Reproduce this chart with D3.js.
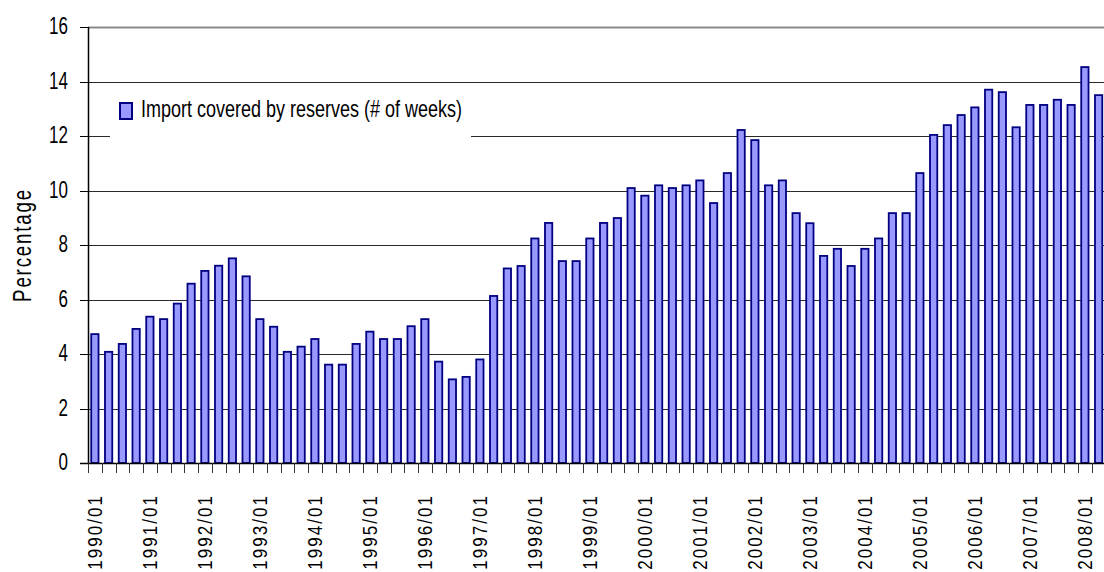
<!DOCTYPE html>
<html>
<head>
<meta charset="utf-8">
<script src="https://cdn.jsdelivr.net/npm/d3@7"></script>
<style>
    body { margin: 0; background: #fff; }
    svg text { font-family: "Liberation Sans", Arial, sans-serif; fill: #000; }
</style>
</head>
<body>
<div id="chart-view"></div>
<script>
// Chart data (quarterly, 1990/01 .. 2008/02)
const years = ["1990", "1991", "1992", "1993", "1994", "1995", "1996", "1997", "1998",
    "1999", "2000", "2001", "2002", "2003", "2004", "2005", "2006", "2007", "2008"];
const quarters = ["01", "02", "03", "04"];
const importCover = [
    4.73, 4.08, 4.37, 4.92, 5.37, 5.28, 5.85, 6.58,
    7.05, 7.24, 7.51, 6.85, 5.28, 5.00, 4.08, 4.27,
    4.55, 3.61, 3.61, 4.37, 4.82, 4.55, 4.55, 5.02,
    5.28, 3.72, 3.07, 3.16, 3.80, 6.13, 7.14, 7.23,
    8.24, 8.81, 7.41, 7.41, 8.24, 8.81, 8.99, 10.09,
    9.81, 10.19, 10.09, 10.19, 10.37, 9.54, 10.64, 12.22,
    11.85, 10.19, 10.37, 9.17, 8.80, 7.60, 7.86, 7.23,
    7.86, 8.24, 9.17, 9.17, 10.64, 12.04, 12.40, 12.77,
    13.05, 13.70, 13.61, 12.32, 13.14, 13.14, 13.33, 13.14,
    14.53, 13.50
];
const yTicks = [0, 2, 4, 6, 8, 10, 12, 14, 16];
const seriesName = "Import covered by reserves (# of weeks)";
const yTitle = "Percentage";

class BarChart {
    constructor() {
        this.width = 1104;
        this.height = 572;
        this.margin = { left: 88, top: 27, bottom: 463, right: 1105.5 };
        this.categories = years.flatMap(y => quarters.map(q => `${y}/${q}`)).slice(0, importCover.length);

        this.svg = d3.select("#chart-view")
            .append("svg")
            .attr("width", this.width)
            .attr("height", this.height);
    }

    draw() {
        const m = this.margin;
        const x = d3.scaleBand()
            .domain(this.categories)
            .range([m.left, m.right]);
        const y = d3.scaleLinear()
            .domain([0, 16])
            .range([m.bottom, m.top]);

        // Gridlines
        this.svg.append("g")
            .selectAll("line")
            .data(yTicks.filter(d => d > 0))
            .enter()
            .append("line")
            .attr("x1", m.left)
            .attr("x2", this.width)
            .attr("y1", d => Math.round(y(d)) + 0.5)
            .attr("y2", d => Math.round(y(d)) + 0.5)
            .style("stroke", d => d === 16 ? "#8a8a8a" : "#2a2a2a")
            .style("stroke-width", d => d === 16 ? 2 : 1);

        // Legend (white box sits over the 12 gridline)
        const legend = this.svg.append("g");
        legend.append("rect")
            .attr("x", 110).attr("y", 90)
            .attr("width", 361).attr("height", 50)
            .style("fill", "#fff");
        legend.append("rect")
            .attr("x", 120).attr("y", 103)
            .attr("width", 12).attr("height", 16)
            .style("fill", "#9999ff")
            .style("stroke", "#000080")
            .style("stroke-width", 2);
        legend.append("text")
            .attr("x", 141)
            .attr("y", 117)
            .style("font-size", "24px")
            .attr("textLength", 321)
            .attr("lengthAdjust", "spacingAndGlyphs")
            .text(seriesName);

        // Bars
        const barW = x.bandwidth() * 0.53;
        this.svg.append("g")
            .selectAll("rect")
            .data(importCover)
            .enter()
            .append("rect")
            .attr("x", (d, i) => x(this.categories[i]) + (x.bandwidth() - barW) / 2)
            .attr("y", d => y(d))
            .attr("width", barW)
            .attr("height", d => y(0) - y(d))
            .style("fill", "#9999ff")
            .style("stroke", "#000080")
            .style("stroke-width", 1.8);

        // Y axis
        const yAxis = this.svg.append("g");
        yAxis.append("line")
            .attr("x1", m.left + 0.5).attr("x2", m.left + 0.5)
            .attr("y1", m.top).attr("y2", m.bottom)
            .style("stroke", "#000").style("stroke-width", 1.5);
        yAxis.selectAll(".ytick")
            .data(yTicks)
            .enter()
            .append("line")
            .attr("x1", 80).attr("x2", m.left)
            .attr("y1", d => Math.round(y(d)) + 0.5)
            .attr("y2", d => Math.round(y(d)) + 0.5)
            .style("stroke", "#000");
        yAxis.selectAll(".ylabel")
            .data(yTicks)
            .enter()
            .append("text")
            .attr("transform", d => `translate(68,${y(d) - 1}) scale(0.74,1)`)
            .attr("dy", "0.36em")
            .style("text-anchor", "end")
            .style("font-size", "23px")
            .text(d => d);
        yAxis.append("text")
            .attr("transform", "translate(31,245) rotate(-90) scale(0.75,1)")
            .style("text-anchor", "middle")
            .style("font-size", "25px")
            .style("letter-spacing", "2.4px")
            .text(yTitle);

        // X axis
        const xAxis = this.svg.append("g");
        xAxis.append("line")
            .attr("x1", 80).attr("x2", this.width)
            .attr("y1", m.bottom + 0.5).attr("y2", m.bottom + 0.5)
            .style("stroke", "#000").style("stroke-width", 1.5);
        xAxis.selectAll(".xtick")
            .data(this.categories.concat(["end"]))
            .enter()
            .append("line")
            .attr("x1", (d, i) => Math.round(m.left + i * x.step()) + 0.5)
            .attr("x2", (d, i) => Math.round(m.left + i * x.step()) + 0.5)
            .attr("y1", m.bottom)
            .attr("y2", m.bottom + 10)
            .style("stroke", "#333");
        xAxis.selectAll(".xlabel")
            .data(this.categories.filter(c => c.endsWith("/01")))
            .enter()
            .append("text")
            .attr("transform", d => `translate(${x(d) + x.bandwidth() / 2},494) rotate(-90) scale(0.85,1)`)
            .attr("dy", "0.36em")
            .style("text-anchor", "end")
            .style("font-size", "20px")
            .style("letter-spacing", "2.4px")
            .text(d => d);
    }
}

const chart = new BarChart();
chart.draw();
</script>
</body>
</html>
